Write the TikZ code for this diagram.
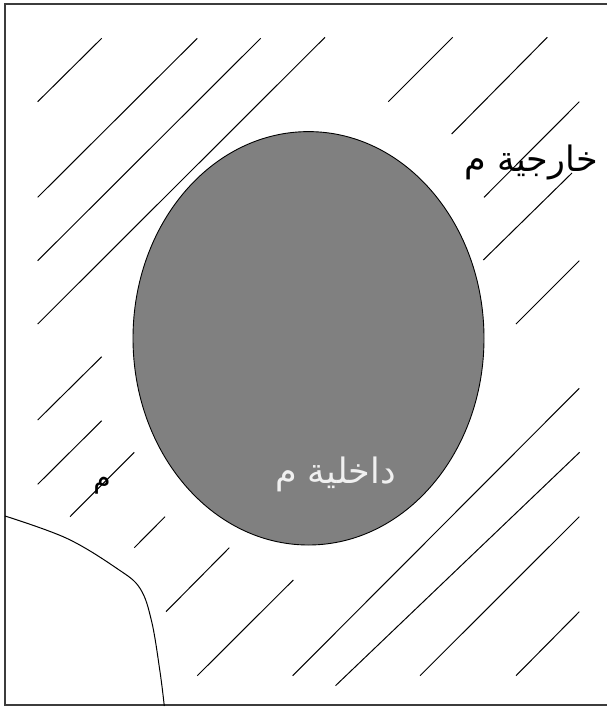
\documentclass[tikz,border=0pt]{standalone}
\usepackage{fontspec}
\newfontfamily\arabicfont[Script=Arabic]{DejaVu Sans}
\TeXXeTstate=1
\definecolor{regiongray}{RGB}{128,128,128}
\definecolor{framegray}{RGB}{60,60,60}
\definecolor{lighttext}{RGB}{240,240,240}
\begin{document}
\begin{tikzpicture}[x=1pt,y=-1pt,
  hatch/.style={line width=1pt,black},
  framestyle/.style={line width=1.6pt,draw=framegray},
  region/.style={line width=0.9pt,draw=black,fill=regiongray},
  boundary/.style={line width=1pt,black},
  label/.style={inner sep=0pt,font=\arabicfont\fontsize{35}{40}\selectfont},
  smalllabel/.style={inner sep=0pt,font=\arabicfont\fontsize{28}{32}\selectfont}]
\useasboundingbox (0,0) rectangle (607,710);
\begin{scope}
\clip (0,0) rectangle (607,710);
\draw[framestyle] (5,4) rectangle (612,705);
\end{scope}
% hatch lines
\draw[hatch] (37.7,101.7) -- (101.7,38.3);
\draw[hatch] (37.7,197.3) -- (197.3,38.3);
\draw[hatch] (37.7,260.7) -- (260.7,38.3);
\draw[hatch] (37.7,324.0) -- (325.0,37.3);
\draw[hatch] (388.3,101.7) -- (452.7,37.3);
\draw[hatch] (451.7,134.0) -- (547.3,37.3);
\draw[hatch] (484.0,197.3) -- (579.3,101.7);
\draw[hatch] (483.3,260.0) -- (572.0,173.0);
\draw[hatch] (516.0,324.0) -- (579.3,260.7);
\draw[hatch] (37.7,420.0) -- (101.7,356.7);
\draw[hatch] (37.7,484.3) -- (101.7,420.7);
\draw[hatch] (70.0,516.7) -- (134.3,452.3);
\draw[hatch] (134.3,547.7) -- (165.0,516.7);
\draw[hatch] (166.0,611.7) -- (229.3,547.7);
\draw[hatch] (197.3,675.7) -- (293.3,580.0);
\draw[hatch] (292.7,675.7) -- (579.3,388.3);
\draw[hatch] (335.5,685.7) -- (579.6,452.3);
\draw[hatch] (420.0,675.7) -- (579.3,516.7);
\draw[hatch] (516.0,675.7) -- (579.3,611.7);
% interior region
\draw[region] (308.5,338.3) ellipse [x radius=175.5, y radius=206.7];
% boundary curve
\draw[boundary] plot[smooth,tension=0.6] coordinates {(5,516) (66.7,538.3) (116.7,568.3) (140,588.3) (151.7,621.7) (160,671.7) (164.3,706)};
% labels
\node[label,anchor=base east] (ext) at (598,171) {\beginR خارجية م\endR};
\node[label,anchor=base east,text=lighttext] (int) at (396,483) {\beginR داخلية م\endR};
\node[smalllabel,anchor=base east] (m) at (111,487) {\beginR م\endR};
\end{tikzpicture}
\end{document}
